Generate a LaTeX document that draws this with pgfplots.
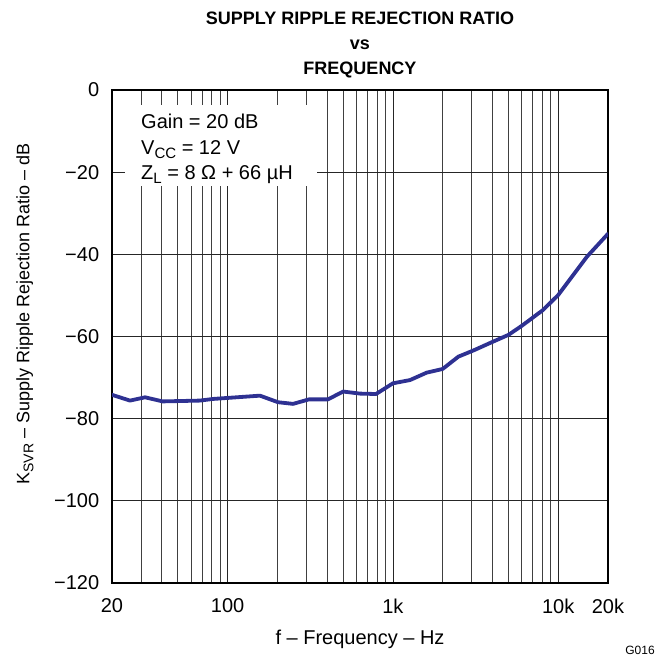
\documentclass[border=0pt]{standalone}
\usepackage{fontspec}
\setmainfont{Liberation Sans}
\usepackage{pgfplots}
\pgfplotsset{compat=1.18}
\definecolor{curve}{RGB}{46,49,146}
\begin{document}
\fontsize{20bp}{24bp}\selectfont
\begin{tikzpicture}
\begin{axis}[name=ax, scale only axis, width=496bp, height=493bp,
  xmode=log, xmin=20, xmax=20000, ymin=-120, ymax=0,
  xtick={20,100,1000,10000,20000}, xticklabels={20,100,1k,10k,20k},
  minor xtick={30,40,50,60,70,80,90,200,300,400,500,600,700,800,900,2000,3000,4000,5000,6000,7000,8000,9000},
  ytick={-120,-100,-80,-60,-40,-20,0},
  yticklabels={−120,−100,−80,−60,−40,−20,0},
  grid=both,
  major grid style={black!85, line width=0.75bp},
  minor grid style={black!75, line width=0.75bp},
  major tick length=0pt, minor tick length=0pt,
  axis line style={line width=1.8bp},
  tick label style={font=\fontsize{20bp}{24bp}\selectfont},
  xticklabel style={yshift=-9bp},
  yticklabel style={xshift=-6bp},
  title={SUPPLY RIPPLE REJECTION RATIO\\vs\\FREQUENCY},
  title style={font=\bfseries\fontsize{18bp}{25bp}\selectfont, align=center, at={(axis description cs:0.5,1)}, anchor=south, yshift=-1bp},
  xlabel={f – Frequency – Hz},
  xlabel style={font=\fontsize{20bp}{24bp}\selectfont, at={(axis description cs:0.5,0)}, anchor=center, yshift=-56bp},
  ylabel={K\raisebox{-0.22em}{\fontsize{14bp}{14bp}\selectfont SVR} – Supply Ripple Rejection Ratio – dB},
  ylabel style={font=\fontsize{18bp}{22bp}\selectfont, at={(axis description cs:-0.1754,0.5456)}, anchor=center, rotate=0},
]
\fill[white] (rel axis cs:0.026,0.805) rectangle (rel axis cs:0.413,0.970);
\node[anchor=base west, inner sep=0pt] at (rel axis cs:0.0585,0.921) {Gain = 20 dB};
\node[anchor=base west, inner sep=0pt] at (rel axis cs:0.0585,0.870) {V\raisebox{-0.22em}{\fontsize{15bp}{15bp}\selectfont CC} = 12 V};
\node[anchor=base west, inner sep=0pt] at (rel axis cs:0.0585,0.819) {Z\raisebox{-0.22em}{\fontsize{15bp}{15bp}\selectfont L} = 8 Ω + 66 µH};
\addplot[curve, line width=3.8bp, line join=round, line cap=round] coordinates {
(20,-74.2) (25.7,-75.6) (31.7,-74.8) (40.5,-75.8) (68,-75.6) (81.7,-75.2) (157,-74.4) (202,-76.0) (249,-76.4) (311,-75.3) (405,-75.3) (500,-73.4) (632,-73.9) (791,-74.0) (1000,-71.4) (1270,-70.6) (1600,-68.8) (2000,-67.9) (2490,-64.9) (3070,-63.4) (3960,-61.4) (5000,-59.6) (6020,-57.4) (8060,-53.6) (10000,-49.9) (14900,-40.6) (20000,-35.0)
};
\end{axis}
\node[font=\fontsize{12bp}{14bp}\selectfont, anchor=center] at ([shift={(32bp,-67bp)}]ax.south east) {G016};
\pgfresetboundingbox
\path[use as bounding box] ([shift={(-112bp,-83bp)}]ax.south west) rectangle ([shift={(52bp,90bp)}]ax.north east);
\end{tikzpicture}
\end{document}
